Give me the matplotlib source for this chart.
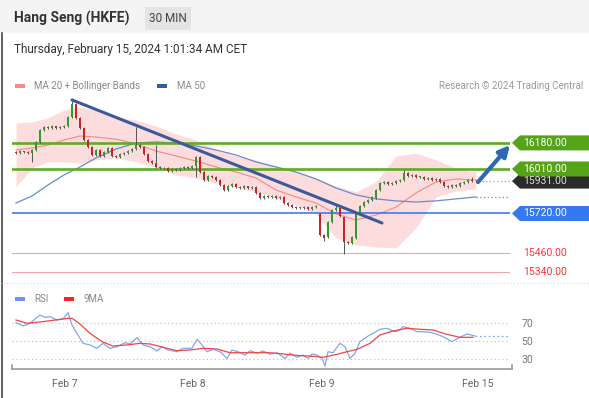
import matplotlib.pyplot as plt
from matplotlib.patches import Polygon, Rectangle
from matplotlib.lines import Line2D

plt.rcParams['font.family'] = ['Roboto', 'DejaVu Sans']

# ---- candles (30 min bars, index 0..115) ----
opens = [16121, 16114, 16127, 16121, 16114, 16134, 16186, 16264, 16284, 16277,
         16290, 16277, 16284, 16290, 16349, 16434, 16342, 16277, 16199, 16153,
         16101, 16134, 16095, 16121, 16147, 16095, 16088, 16108, 16114, 16127,
         16140, 16166, 16153, 16108, 16062, 16049, 16023, 16016, 16016, 15997,
         16010, 16003, 16016, 16023, 16016, 16030, 16088, 15990, 15938, 15964,
         15958, 15938, 15906, 15873, 15899, 15912, 15893, 15886, 15899, 15886,
         15893, 15854, 15821, 15834, 15828, 15834, 15821, 15828, 15788, 15775,
         15762, 15756, 15756, 15762, 15749, 15762, 15717, 15580, 15567, 15665,
         15743, 15756, 15697, 15534, 15528, 15560, 15717, 15769, 15795, 15808,
         15821, 15873, 15919, 15925, 15912, 15919, 15932, 15938, 15984, 15964,
         15971, 15958, 15958, 15945, 15951, 15938, 15945, 15925, 15899, 15893,
         15906, 15899, 15919, 15925, 15938, 15932]
closes = [16114, 16127, 16121, 16114, 16134, 16186, 16264, 16284, 16277, 16290,
          16277, 16284, 16290, 16349, 16434, 16342, 16277, 16199, 16153, 16101,
          16134, 16095, 16121, 16147, 16095, 16088, 16108, 16114, 16127, 16140,
          16166, 16153, 16108, 16062, 16049, 16023, 16016, 16016, 15997, 16010,
          16003, 16016, 16023, 16016, 16030, 16088, 15990, 15938, 15964, 15958,
          15938, 15906, 15873, 15899, 15912, 15893, 15886, 15899, 15886, 15893,
          15854, 15821, 15834, 15828, 15834, 15821, 15828, 15788, 15775, 15762,
          15756, 15756, 15762, 15749, 15762, 15769, 15580, 15560, 15665, 15743,
          15756, 15704, 15534, 15528, 15567, 15717, 15769, 15795, 15808, 15828,
          15873, 15919, 15925, 15912, 15919, 15932, 15938, 15984, 15964, 15971,
          15958, 15958, 15945, 15951, 15938, 15945, 15925, 15899, 15893, 15906,
          15899, 15919, 15925, 15938, 15932, 15931]
highs = [16127, 16133, 16130, 16125, 16140, 16190, 16270, 16292, 16290, 16296,
         16293, 16290, 16296, 16356, 16453, 16440, 16348, 16282, 16205, 16158,
         16140, 16140, 16127, 16153, 16150, 16100, 16114, 16120, 16133, 16146,
         16284, 16172, 16158, 16112, 16068, 16166, 16030, 16023, 16020, 16016,
         16014, 16022, 16030, 16028, 16036, 16095, 16094, 15995, 15970, 15970,
         15962, 15942, 15910, 15905, 15918, 15916, 15899, 15905, 15902, 15899,
         15896, 15858, 15840, 15840, 15840, 15838, 15834, 15832, 15792, 15780,
         15768, 15762, 15768, 15766, 15768, 15775, 15723, 15586, 15671, 15749,
         15775, 15762, 15700, 15541, 15573, 15723, 15775, 15800, 15815, 15834,
         15880, 15925, 15932, 15930, 15925, 15938, 15945, 16003, 15990, 15977,
         15977, 15964, 15962, 15958, 15955, 15951, 15950, 15930, 15905, 15912,
         15912, 15925, 15932, 15945, 15958, 15940]
lows = [16105, 16108, 16115, 16108, 16056, 16128, 16180, 16258, 16270, 16272,
        16270, 16272, 16278, 16285, 16342, 16335, 16270, 16192, 16145, 16095,
        16095, 16090, 16088, 16115, 16090, 16082, 16082, 16102, 16108, 16120,
        16134, 16147, 16102, 16056, 16042, 16016, 16010, 16008, 15990, 15992,
        15996, 16000, 16012, 16010, 16012, 15958, 15984, 15932, 15932, 15952,
        15932, 15900, 15866, 15866, 15893, 15886, 15880, 15882, 15880, 15880,
        15848, 15815, 15815, 15822, 15822, 15815, 15815, 15782, 15769, 15756,
        15750, 15749, 15750, 15743, 15745, 15756, 15573, 15541, 15560, 15660,
        15737, 15697, 15456, 15520, 15520, 15554, 15710, 15762, 15788, 15800,
        15815, 15866, 15912, 15906, 15906, 15912, 15925, 15932, 15958, 15958,
        15952, 15950, 15940, 15940, 15932, 15932, 15919, 15893, 15886, 15886,
        15893, 15893, 15912, 15919, 15925, 15925]

# ---- moving averages / bollinger (read every few bars) ----
ind_x = [0, 4, 8, 12, 16, 20, 25, 30, 35, 40, 45, 50, 55, 60, 65, 70, 75, 80,
         85, 90, 95, 100, 105, 110, 115]
ma20 = [16134, 16147, 16166, 16199, 16225, 16218, 16205, 16173, 16127, 16095,
        16062, 16023, 15990, 15951, 15873, 15828, 15788, 15717, 15678, 15710,
        15762, 15854, 15925, 15945, 15938]
bb_upper = [16310, 16316, 16342, 16394, 16414, 16394, 16342, 16329, 16290, 16238,
            16199, 16134, 16095, 16069, 16030, 15997, 15951, 15899, 15860, 15925,
            16095, 16114, 16069, 16016, 15990]
bb_lower = [15893, 16016, 16056, 16056, 16049, 16069, 16082, 16056, 16023, 15971,
            15951, 15919, 15893, 15860, 15821, 15775, 15717, 15560, 15515, 15502,
            15495, 15626, 15828, 15867, 15880]
ma50 = [15788, 15834, 15906, 15971, 16023, 16082, 16140, 16179, 16186, 16179,
        16160, 16134, 16101, 16056, 16023, 15990, 15945, 15886, 15841, 15815,
        15802, 15795, 15802, 15815, 15828]

# ---- RSI panel ----
rsi_x = [0, 1.75, 3.5, 6, 7.25, 8.5, 10.25, 11.75, 13, 14, 15.25, 16.75, 18.5,
         20.25, 21.75, 23.5, 25.25, 27.25, 28.5, 30.25, 31.75, 33.5, 35.25, 36.5,
         38, 40.25, 41.75, 44, 45.25, 46.5, 47.75, 49.25, 51, 52.75, 54, 55.5,
         57.25, 58.5, 60.25, 61.75, 63.5, 65.25, 67.25, 68.5, 70.25, 71.75, 73,
         74, 75.25, 76.5, 77.25, 78, 79.25, 81, 82.25, 83.5, 84.75, 86, 87.75,
         89.25, 91, 92.75, 94.75, 96, 96.75, 98.5, 100.25, 101.75, 103.5, 105.25,
         106.75, 109, 110.5, 112.75, 114.75]
rsi = [70.3, 66.7, 69.7, 78.9, 76.3, 77, 73.3, 74.4, 81.5, 67.8, 58.5, 47.4, 45.6,
       41.9, 47.4, 41.9, 43.7, 48.1, 46.7, 53.7, 45.6, 43.7, 38.9, 43.7,
       40, 38.1, 41.9, 41.9, 51.9, 45.6, 38.1, 40.7, 38.1, 30.7, 40, 38.1,
       34.4, 39.3, 36.3, 38.9, 35.2, 37, 30.7, 36.3, 31.9, 34.4, 30.7,
       35.6, 34.4, 30.7, 22.2, 38.1, 37, 47.4, 43.7, 30.7, 36.3, 49.3, 54.8,
       58.5, 63, 64.1, 60.3, 62.2, 65.9, 64.1, 60.3, 60.3, 59.6, 57.4,
       54.8, 49.3, 53, 57.8, 55.6]
ma9_x = [0, 2.75, 6.75, 13, 14, 16, 18.5, 21.5, 24.25, 27.75, 31, 33.5, 36.75,
         40.25, 43.5, 46.75, 50.25, 53.5, 58.5, 63.5, 66.75, 71, 73.5, 76.75,
         80.25, 82.75, 85.25, 88.5, 91, 94.25, 97.75, 101, 104.25, 107.75, 111,
         114.25]
ma9 = [73.3, 69.7, 71.5, 75.2, 75.2, 68.9, 58.5, 49.3, 44.4, 45.6, 47.4, 46.7, 43,
       39.3, 40, 41.9, 41.1, 37, 37, 37, 35.6, 33.7, 33.3, 31.9,
       35.2, 38.1, 40.7, 47.4, 56.7, 61.1, 64.1, 63, 62.2, 57.4, 54.1,
       54.1]

date_pos = [12.25, 44.25, 76.5, 115.5]
date_labels = ["Feb 7", "Feb 8", "Feb 9", "Feb 15"]

# key levels
res_levels = [16180, 16010]
sup_levels = [15720]
low_levels = [15460, 15340]
last_price = 15931
trend_x = [14, 91.5]
trend_y = [16460, 15658]
arrow_from = (115.5, 15925)
arrow_to = (123.5, 16166)

W, H = 589, 398
fig = plt.figure(figsize=(W / 100, H / 100), dpi=100)


def fx(px):
    return px / W


def fy(py):
    return 1 - py / H


# ---- header ----
fig.add_artist(Rectangle((0, fy(33)), 1, 1 - fy(33), transform=fig.transFigure,
                         color='#f4f4f4', lw=0))
fig.add_artist(Rectangle((fx(145), fy(30)), fx(46), fy(7) - fy(30),
                         transform=fig.transFigure, color='#e4e4e4', lw=0))
fig.text(fx(14), fy(18), "Hang Seng (HKFE)", fontsize=10, fontweight='bold',
         color='#333333', va='center')
fig.text(fx(168), fy(18), "30 MIN", fontsize=8.5, color='#444444',
         va='center', ha='center')
fig.text(fx(14), fy(49), "Thursday, February 15, 2024 1:01:34 AM CET",
         fontsize=8.5, color='#333333', va='center')
fig.add_artist(Line2D([fx(1.5), fx(1.5)], [fy(33), 0], transform=fig.transFigure,
                      color='#444444', lw=1.2))

# ---- main price panel ----
ax = fig.add_axes([fx(12), fy(283), fx(510) - fx(12), fy(70) - fy(283)])
ax.set_xlim(-1, 123.5)
ax.set_ylim(15267, 16655)
ax.axis('off')

ax.fill_between(ind_x, bb_lower, bb_upper, color='#fcdcdc', lw=0, zorder=1)
ax.plot(ind_x, ma20, color='#f48a8a', lw=0.8, zorder=2)
ax.plot(ind_x, ma50, color='#6a8bcb', lw=0.9, zorder=2)
ax.plot([ind_x[-1], 123.5], [ma50[-1]] * 2, color='#6a8bcb', lw=0.9,
        ls=(0, (1, 2)), zorder=2)
ax.plot([115.5, 123.5], [last_price] * 2, color='#999999', lw=0.9,
        ls=(0, (1, 2)), zorder=2)

for lv in res_levels:
    ax.axhline(lv, color='#5fab26', lw=1.9, zorder=3)
for lv in sup_levels:
    ax.axhline(lv, color='#2f6ff0', lw=1.1, zorder=3)
for lv in low_levels:
    ax.axhline(lv, color='#f6a5a5', lw=0.8, zorder=3)

idx = list(range(len(closes)))
cols = ['#2f9a2f' if c >= o else '#cc2222' for o, c in zip(opens, closes)]
ax.vlines(idx, lows, highs, color='#555555', lw=0.7, zorder=4)
bottoms = [min(o, c) for o, c in zip(opens, closes)]
heights = [max(abs(c - o), 3) for o, c in zip(opens, closes)]
ax.bar(idx, heights, bottom=bottoms, width=0.72, color=cols, lw=0, zorder=5)

ax.plot(trend_x, trend_y, color='#3b5a9c', lw=2.2, solid_capstyle='round', zorder=6)
ax.annotate('', xy=arrow_to, xytext=arrow_from, zorder=7,
            arrowprops=dict(arrowstyle='-|>', mutation_scale=16, lw=3,
                            color='#2d68b2', shrinkA=0, shrinkB=0))

# right-hand labels
half = 7.5 * (16655 - 15267) / 213


def tag(y, text, face, txtcol):
    x0, x1, x2 = 1.004, 1.02, 1.16
    pts = [(x0, y), (x1, y + half), (x2, y + half), (x2, y - half), (x1, y - half)]
    ax.add_patch(Polygon(pts, closed=True, transform=ax.get_yaxis_transform(),
                         facecolor=face, edgecolor='none', clip_on=False, zorder=8))
    ax.text(1.026, y, text, transform=ax.get_yaxis_transform(), color=txtcol,
            fontsize=7.5, va='center', ha='left', zorder=9)


tag(last_price, "%.2f" % last_price, '#2b2b2b', '#dddddd')
for lv in res_levels:
    tag(lv, "%.2f" % lv, '#55a318', 'white')
for lv in sup_levels:
    tag(lv, "%.2f" % lv, '#3479f0', 'white')
for lv in low_levels:
    ax.text(1.026, lv, "%.2f" % lv, transform=ax.get_yaxis_transform(),
            color='#ff3333', fontsize=7.5, va='center', ha='left')

# legend row
fig.add_artist(Rectangle((fx(15), fy(88)), fx(10), fy(84) - fy(88),
                         transform=fig.transFigure, color='#f58a8a', lw=0))
fig.text(fx(34), fy(86), "MA 20 + Bollinger Bands", fontsize=7, color='#888888',
         va='center')
fig.add_artist(Rectangle((fx(157), fy(88)), fx(10), fy(84) - fy(88),
                         transform=fig.transFigure, color='#2f5fa8', lw=0))
fig.text(fx(177), fy(86), "MA 50", fontsize=7, color='#888888', va='center')
fig.text(fx(583), fy(86), "Research \u00a9 2024 Trading Central", fontsize=7,
         color='#999999', va='center', ha='right')

# separator
fig.add_artist(Line2D([0, 1], [fy(283), fy(283)], transform=fig.transFigure,
                      color='#d8d8d8', lw=0.8, ls=(0, (1, 2))))

# ---- RSI panel ----
ax2 = fig.add_axes([fx(12), fy(369), fx(510) - fx(12), fy(283) - fy(369)])
ax2.set_xlim(-1, 123.5)
ax2.set_ylim(18.9, 114.4)
for s in ['top', 'left', 'right']:
    ax2.spines[s].set_visible(False)
ax2.spines['bottom'].set_color('#9a9a9a')
ax2.spines['bottom'].set_linewidth(1.2)
ax2.spines['bottom'].set_bounds(-1, 124)
for gv in [30, 50, 70]:
    ax2.axhline(gv, color='#bbbbbb', lw=0.8, ls=(0, (1, 2.5)), zorder=1)
ax2.plot(rsi_x, rsi, color='#85a5f0', lw=0.9, zorder=3)
ax2.plot([rsi_x[-1], 123.5], [rsi[-1]] * 2, color='#85a5f0', lw=0.9,
         ls=(0, (1.5, 2)), zorder=3)
ax2.plot(ma9_x, ma9, color='#f04545', lw=0.9, zorder=4)
for xe in [-1, 124]:
    ax2.plot([xe, xe], [18.9, 23.5], color='#9a9a9a', lw=1.2, clip_on=False)

ax2.set_xticks(date_pos)
ax2.set_xticklabels(date_labels)
ax2.tick_params(axis='x', length=0, pad=7, labelsize=7.5, labelcolor='#666666')
ax2.yaxis.tick_right()
ax2.set_yticks([30, 50, 70])
ax2.tick_params(axis='y', length=0, pad=8, labelsize=7.5, labelcolor='#777777')

fig.add_artist(Rectangle((fx(15), fy(301)), fx(10), fy(297) - fy(301),
                         transform=fig.transFigure, color='#6f95ea', lw=0))
fig.text(fx(34), fy(299), "RSI", fontsize=7, color='#888888', va='center')
fig.add_artist(Rectangle((fx(64), fy(301)), fx(10), fy(297) - fy(301),
                         transform=fig.transFigure, color='#ff1f1f', lw=0))
fig.text(fx(83), fy(299), "9MA", fontsize=7, color='#888888', va='center')

fig.savefig("out.png", dpi=100)
